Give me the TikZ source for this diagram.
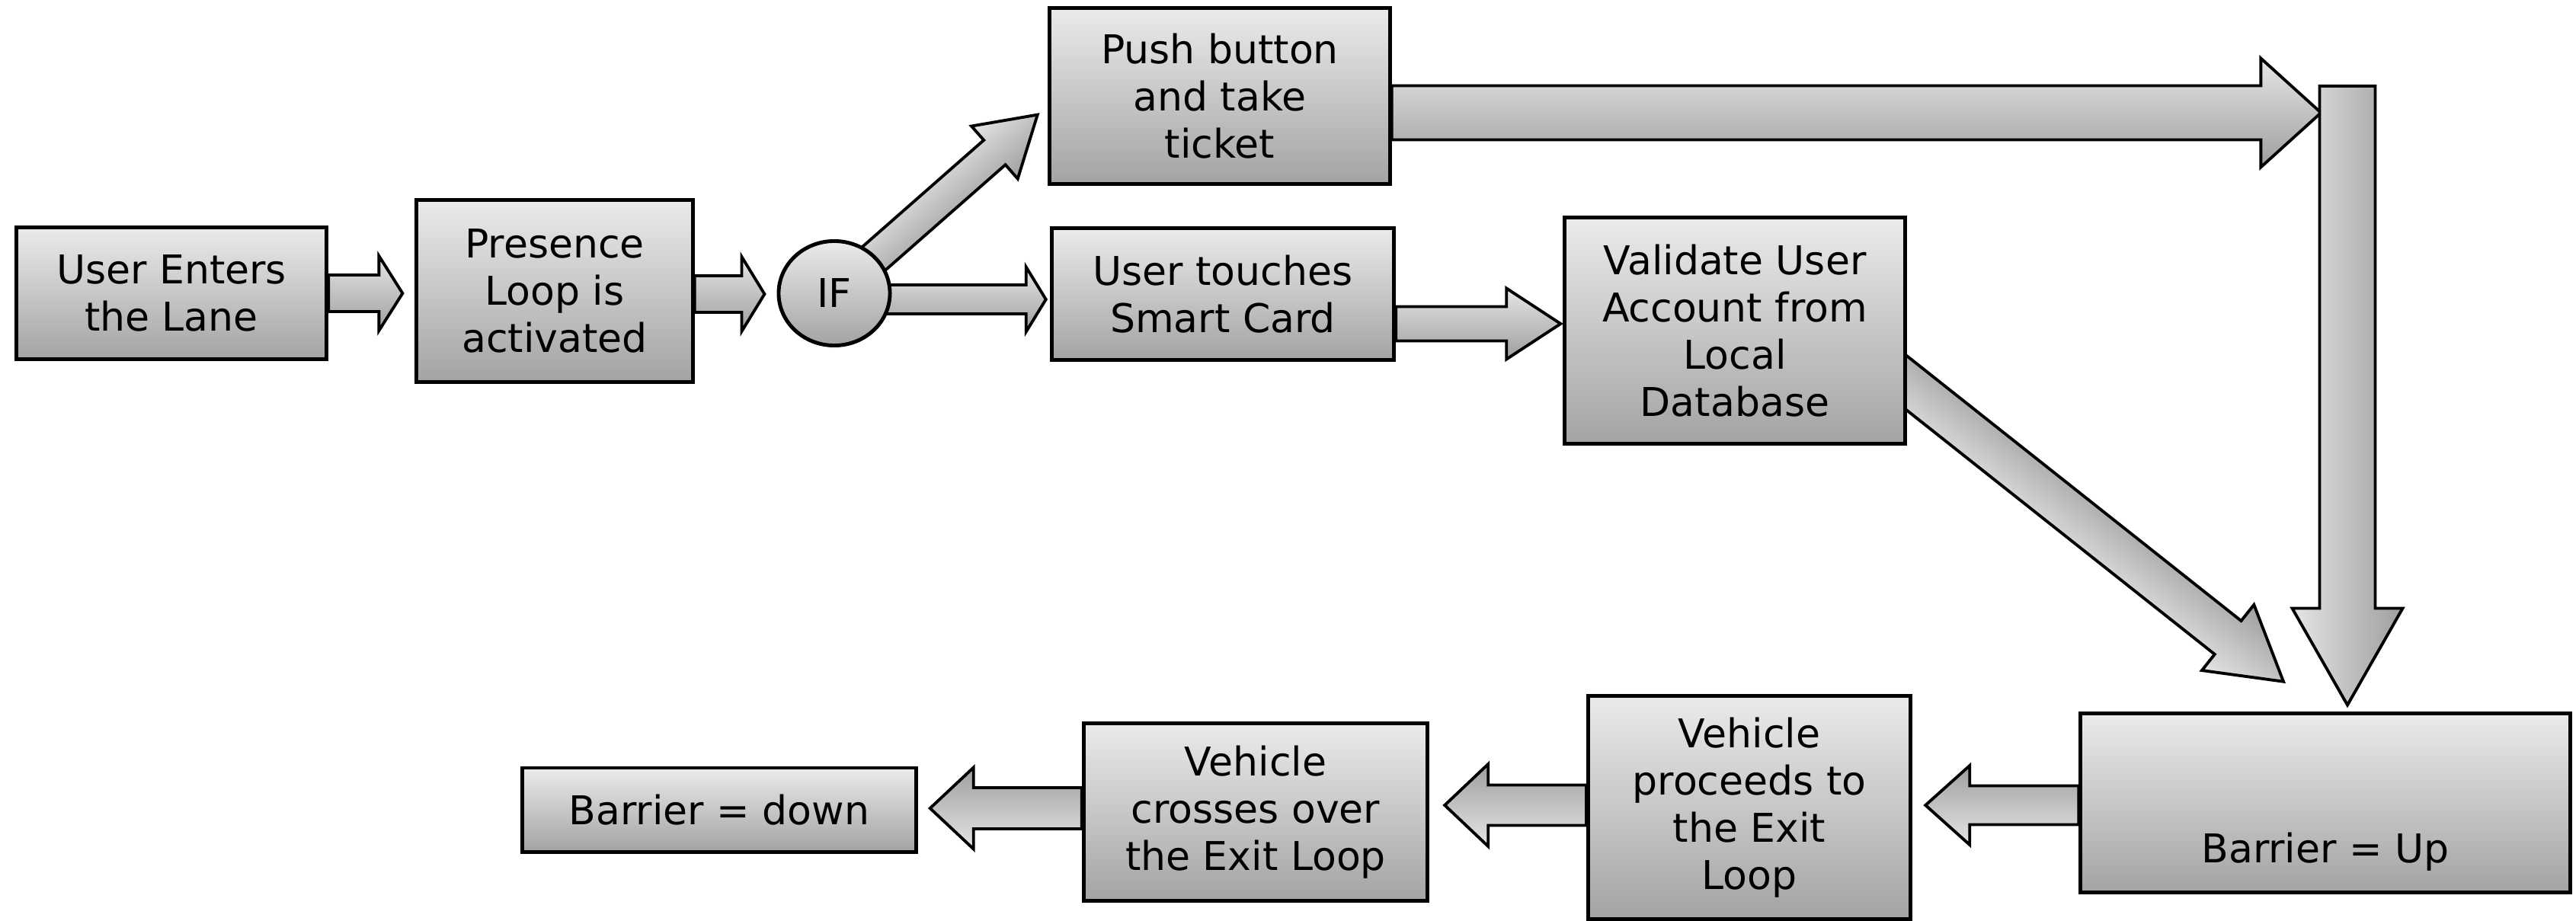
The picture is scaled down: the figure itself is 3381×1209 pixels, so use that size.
\documentclass[tikz,border=0pt]{standalone}
\usepackage{fontspec}
\setmainfont{DejaVu Sans}
\usetikzlibrary{calc,shapes.geometric}
\pgfdeclarelayer{bg}
\pgfsetlayers{bg,main}
\definecolor{boxtop}{gray}{0.92}
\definecolor{boxbot}{gray}{0.64}
\definecolor{arrlight}{gray}{0.90}
\definecolor{arrdark}{gray}{0.62}
\newcommand\flowfont{\fontsize{14.8}{17.6}\selectfont}
% block arrow: [opts]{from}{to}{shaft}{head}{head length}
\newcommand\blockarrow[6][]{%
  \path let \p1=(#2), \p2=(#3) in
    \pgfextra{\pgfmathsetmacro\tmpang{atan2(\y2-\y1,\x2-\x1)}%
      \pgfmathsetmacro\tmplen{veclen(\x2-\x1,\y2-\y1)/0.284528}%
      \xdef\barang{\tmpang}\xdef\barlen{\tmplen}\xdef\barx{\x1}\xdef\bary{\y1}};
  \begin{pgfonlayer}{bg}
  \begin{scope}[transform canvas={shift={(\barx,\bary)},rotate=\barang}]
    \shadedraw[blockarrow,#1] (0,-#4/2) -- (\barlen-#6,-#4/2) -- (\barlen-#6,-#5/2)
      -- (\barlen,0) -- (\barlen-#6,#5/2) -- (\barlen-#6,#4/2) -- (0,#4/2) -- cycle;
  \end{scope}
  \end{pgfonlayer}}

\begin{document}
\begin{tikzpicture}[x=0.01cm,y=-0.01cm]
\tikzstyle{box}=[rectangle,draw,line width=1.4pt,top color=boxtop,bottom color=boxbot,align=center,inner sep=0pt,font=\flowfont]
\tikzstyle{blockarrow}=[draw,line width=1.1pt,line join=miter,top color=arrlight,bottom color=arrdark]
\tikzstyle{flip}=[top color=arrdark,bottom color=arrlight]
\useasboundingbox (0,0) rectangle (3381,1209);

\node (1) at (225,385) [box,minimum width=4.07cm,minimum height=1.73cm]{User Enters\\the Lane};
\node (2) at (728,382) [box,minimum width=3.62cm,minimum height=2.38cm]{Presence\\Loop is\\activated};
\node (3) at (1095,385) [ellipse,draw,line width=1.4pt,top color=boxtop,bottom color=boxbot,inner sep=0pt,minimum width=1.46cm,minimum height=1.37cm,font=\flowfont]{IF};

\node (4) at (1601,126) [box,minimum width=4.46cm,minimum height=2.31cm]{Push button\\and take\\ticket};
\node (5) at (1605,386) [box,minimum width=4.49cm,minimum height=1.72cm]{User touches\\Smart Card};
\node (6) at (2277,434) [box,minimum width=4.46cm,minimum height=2.97cm]{Validate User\\Account from\\Local\\Database};

\node (7) at (3052,1054) [box,minimum width=6.42cm,text height=1.86cm,text depth=0.29cm,inner ysep=0.1cm]{Barrier = Up};
\node (8) at (2296,1060) [box,minimum width=4.23cm,minimum height=2.93cm]{Vehicle\\proceeds to\\the Exit\\Loop};
\node (9) at (1648,1066) [box,minimum width=4.51cm,minimum height=2.33cm]{Vehicle\\crosses over\\the Exit Loop};
\node (10) at (944,1063) [box,minimum width=5.16cm,minimum height=1.10cm]{Barrier = down};

\coordinate (11) at (3081,113);

\blockarrow{1.east}{$(2.west)+(-16,3)$}{48}{98}{31}
\blockarrow{$(2.east)+(0,4)$}{$(3.west)+(-16,1)$}{48}{98}{30}
\blockarrow{$(3.center)+(0,8)$}{$(5.west)+(-5,7)$}{38}{85}{26}
\blockarrow{3.center}{$(4.west)+(-13,24)$}{43}{92}{75}
\blockarrow{$(5.east)+(0,39)$}{$(6.west)+(-3,-9)$}{45}{93}{71}
\blockarrow{$(4.east)+(0,22)$}{$(11)+(-34,35)$}{71}{143}{79}
\blockarrow[flip]{11}{$(7.north)+(29,-8)$}{73}{145}{127}
\blockarrow[flip]{$(6.east)+(-30,45)$}{$(7.north west)+(269,-39)$}{56}{110}{93}
\blockarrow{$(7.west)+(0,3)$}{$(8.east)+(17,-3)$}{51}{104}{58}
\blockarrow{$(8.west)+(0,-3)$}{$(9.east)+(20,-9)$}{53}{108}{57}
\blockarrow{$(9.west)+(0,-5)$}{$(10.east)+(16,-2)$}{54}{107}{57}
\end{tikzpicture}
\end{document}
